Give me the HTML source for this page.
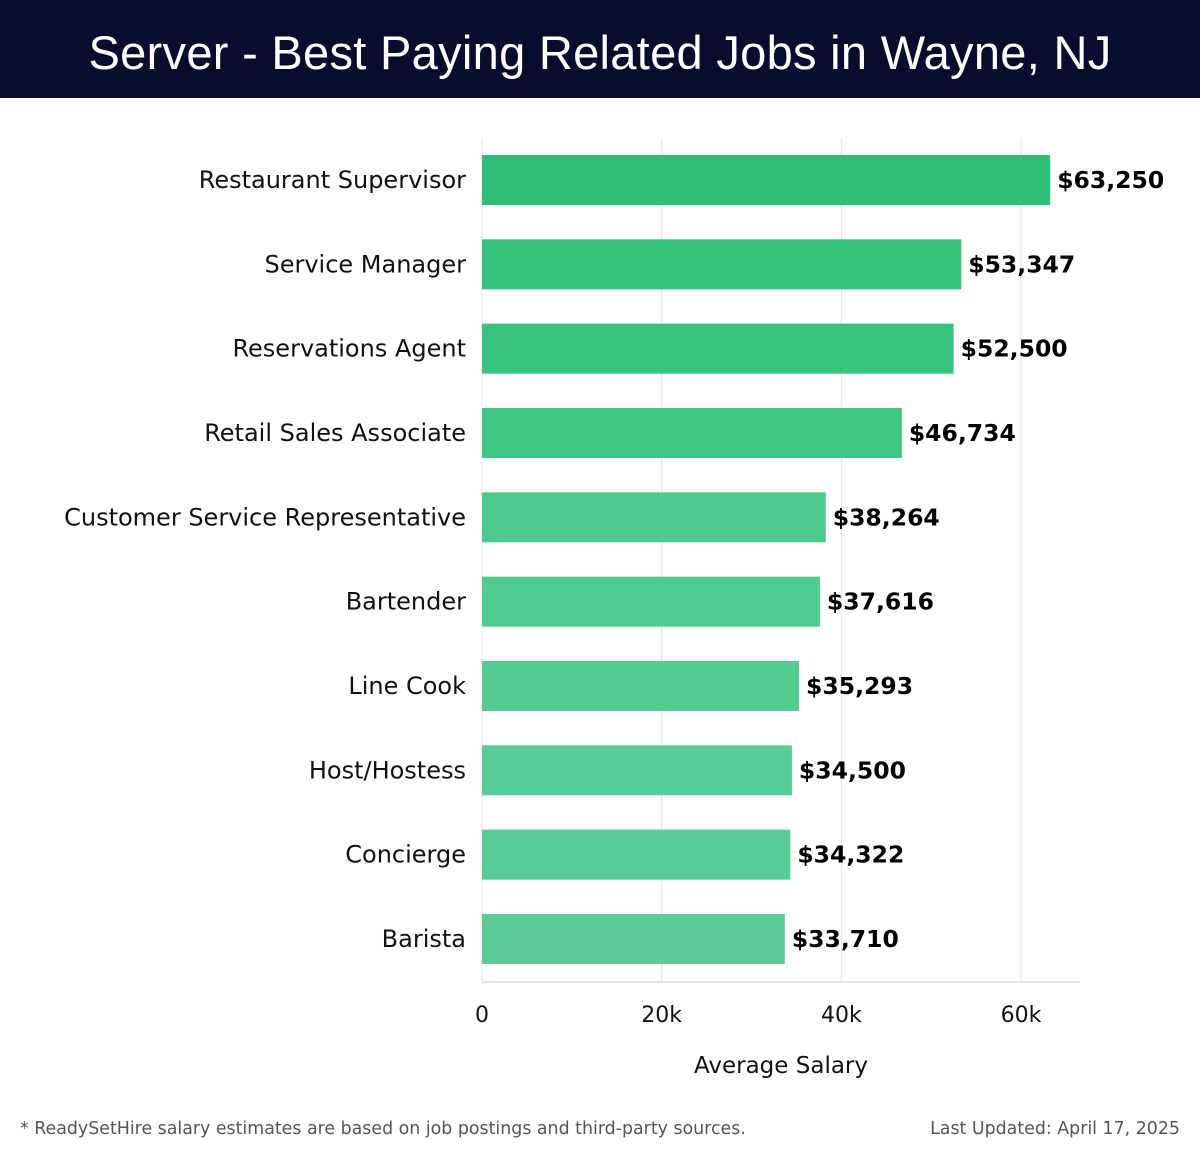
<!DOCTYPE html>
<html><head><meta charset="utf-8">
<style>
body{margin:0;width:1200px;height:1158px;background:#fff;font-family:"DejaVu Sans",sans-serif;overflow:hidden;position:relative}
#hdr{position:absolute;left:0;top:0;width:1200px;height:98px;background:#0a0c2e;color:#fff;font-size:47px;font-weight:300;text-align:center;line-height:106px;letter-spacing:0.3px;font-family:"Liberation Sans",sans-serif}
.foot{position:absolute;top:1119px;font-size:17.4px;color:#555}
</style></head><body>
<div id="hdr">Server - Best Paying Related Jobs in Wayne, NJ</div>
<svg id="chart" width="1200" height="1158" style="position:absolute;left:0;top:0;font-family:'DejaVu Sans',sans-serif"></svg>
<div class="foot" style="left:20px">* ReadySetHire salary estimates are based on job postings and third-party sources.</div>
<div class="foot" style="right:20px">Last Updated: April 17, 2025</div>
<script>
const categories=["Restaurant Supervisor","Service Manager","Reservations Agent","Retail Sales Associate","Customer Service Representative","Bartender","Line Cook","Host/Hostess","Concierge","Barista"];
const values=[63250,53347,52500,46734,38264,37616,35293,34500,34322,33710];
const ticks=[0,20000,40000,60000];
const tickLabels=["0","20k","40k","60k"];
const colors=["#2dbf77","#35c27c","#38c37e","#42c684","#4dc98c","#50ca8e","#54cb91","#57cc94","#58cc95","#5acd96"];
const svg=document.getElementById('chart');
const NS="http://www.w3.org/2000/svg";
const x0=482,pxPer=(1021-482)/60000;
const X=v=>x0+v*pxPer;
const Y=i=>180+i*84.33;
function mk(t,a){const e=document.createElementNS(NS,t);for(const k in a)e.setAttribute(k,a[k]);svg.appendChild(e);return e;}
ticks.forEach((t,i)=>{
 const g=mk('line',{x1:X(t),x2:X(t),y1:138,y2:982,stroke:'#e4e4e4','stroke-width':1});
 
 
 const tl=mk('text',{x:X(t),y:1022,'text-anchor':'middle','font-size':22,fill:'#111'});
 tl.textContent=tickLabels[i];
 
 
});
const ax=mk('line',{x1:482,x2:1080,y1:982,y2:982,stroke:'#ccc','stroke-width':1});


categories.forEach((c,i)=>{
 const y=Y(i);
 const b=mk('rect',{x:X(0),y:y-25,width:X(values[i])-X(0),height:50,fill:colors[i]});
 
 
 const l=mk('text',{x:466,y:y+8,'text-anchor':'end','font-size':24,fill:'#111'});
 l.textContent=c;
 
 
 const v=mk('text',{x:X(values[i])+7,y:y+8,'font-size':23.5,'font-weight':'bold',fill:'#000'});
 v.textContent='$'+values[i].toLocaleString('en-US');
 
 
});
const at=mk('text',{x:781,y:1073,'text-anchor':'middle','font-size':23,fill:'#111'});
at.textContent='Average Salary';


</script>
</body></html>
